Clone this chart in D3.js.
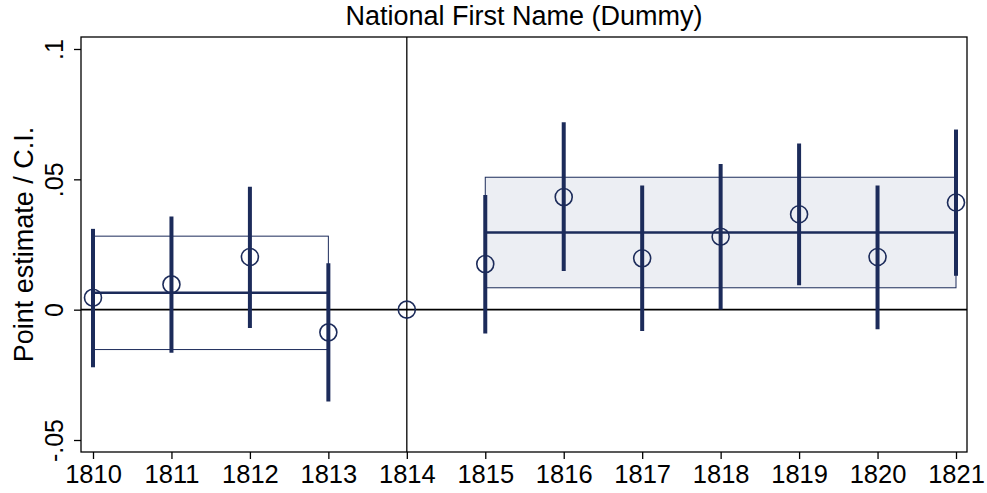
<!DOCTYPE html>
<html>
<head>
<meta charset="utf-8">
<script src="https://cdn.jsdelivr.net/npm/d3@7"></script>
<style>
  body { margin: 0; background: #fff; }
  text { font-family: "Liberation Sans", Arial, sans-serif; fill: #000; }
</style>
</head>
<body>
<div id="chart"></div>
<script>
// years and estimates
const years = [1810, 1811, 1812, 1813, 1814, 1815, 1816, 1817, 1818, 1819, 1820, 1821];
const estimate = [0.0046, 0.0097, 0.0202, -0.0087, 0, 0.0175, 0.0432, 0.0197, 0.0280, 0.0366, 0.0202, 0.0411];
const ciLow = [-0.0221, -0.0165, -0.0070, -0.0352, null, -0.0091, 0.0148, -0.0082, 0.0001, 0.0094, -0.0075, 0.0130];
const ciHigh = [0.0310, 0.0357, 0.0472, 0.0178, null, 0.0440, 0.0719, 0.0476, 0.0559, 0.0637, 0.0476, 0.0691];

// pre / post averages with their bands
const periods = [
  { from: 1810, to: 1813, mean: 0.0065, low: -0.0153, high: 0.0282, fill: "none" },
  { from: 1815, to: 1821, mean: 0.0296, low: 0.0084, high: 0.0508, fill: "#eceef3" }
];

const yTicks = [-0.05, 0, 0.05, 0.1];
const yTickLabels = ["-.05", "0", ".05", ".1"];

const navy = "#1c2b5a";

const margin = { top: 37, right: 20, bottom: 41, left: 81 },
  width = 987 - margin.left - margin.right,
  height = 493 - margin.top - margin.bottom;

const svg = d3.select("#chart")
  .append("svg")
  .attr("width", width + margin.left + margin.right)
  .attr("height", height + margin.top + margin.bottom);

const g = svg.append("g")
  .attr("transform", `translate(${margin.left},${margin.top})`);

const x = d3.scaleLinear()
  .domain([1810, 1821])
  .range([12, 875]);

const y = d3.scaleLinear()
  .domain([-0.0546, 0.1046])
  .range([height, 0]);

// title
svg.append("text")
  .attr("x", margin.left + width / 2)
  .attr("y", 25)
  .attr("text-anchor", "middle")
  .style("font-size", "27px")
  .text("National First Name (Dummy)");

// y label
svg.append("text")
  .attr("transform", `translate(33,${margin.top + height / 2}) rotate(-90)`)
  .attr("text-anchor", "middle")
  .style("font-size", "27px")
  .text("Point estimate / C.I.");

// bands
g.selectAll("rect.band")
  .data(periods)
  .join("rect")
  .attr("class", "band")
  .attr("x", d => x(d.from))
  .attr("width", d => x(d.to) - x(d.from))
  .attr("y", d => y(d.high))
  .attr("height", d => y(d.low) - y(d.high))
  .attr("fill", d => d.fill)
  .attr("stroke", navy)
  .attr("stroke-width", 1);

// reference lines
g.append("line")
  .attr("x1", 0).attr("x2", width)
  .attr("y1", y(0)).attr("y2", y(0))
  .attr("stroke", "#000").attr("stroke-width", 1.6);

g.append("line")
  .attr("x1", x(1814)).attr("x2", x(1814))
  .attr("y1", 0).attr("y2", height)
  .attr("stroke", "#000").attr("stroke-width", 1.3);

// mean lines
g.selectAll("line.mean")
  .data(periods)
  .join("line")
  .attr("class", "mean")
  .attr("x1", d => x(d.from)).attr("x2", d => x(d.to))
  .attr("y1", d => y(d.mean)).attr("y2", d => y(d.mean))
  .attr("stroke", navy).attr("stroke-width", 2.6);

const pts = years.map((yr, i) => ({ yr, est: estimate[i], lo: ciLow[i], hi: ciHigh[i] }));

// CI bars
g.selectAll("line.ci")
  .data(pts.filter(d => d.lo !== null))
  .join("line")
  .attr("class", "ci")
  .attr("x1", d => x(d.yr)).attr("x2", d => x(d.yr))
  .attr("y1", d => y(d.lo)).attr("y2", d => y(d.hi))
  .attr("stroke", navy).attr("stroke-width", 4);

// point estimates
g.selectAll("circle.pt")
  .data(pts)
  .join("circle")
  .attr("class", "pt")
  .attr("cx", d => x(d.yr))
  .attr("cy", d => y(d.est))
  .attr("r", 8.5)
  .attr("fill", "none")
  .attr("stroke", navy)
  .attr("stroke-width", 1.6);

// frame
g.append("rect")
  .attr("width", width).attr("height", height)
  .attr("fill", "none").attr("stroke", "#000").attr("stroke-width", 1.3);

// x axis
const xAxis = g.append("g")
  .attr("transform", `translate(0,${height})`)
  .call(d3.axisBottom(x).tickValues(years).tickFormat(d3.format("d")).tickSizeOuter(0).tickSize(7));
xAxis.select(".domain").remove();
xAxis.selectAll("line").attr("stroke", "#000").attr("stroke-width", 1.3);
xAxis.selectAll("text")
  .attr("y", 31).attr("dy", 0)
  .style("font-size", "25.5px")
  .style("font-family", "Liberation Sans, Arial, sans-serif");

// y axis
const yAxis = g.append("g")
  .call(d3.axisLeft(y).tickValues(yTicks).tickFormat((d, i) => yTickLabels[i]).tickSizeOuter(0).tickSize(7));
yAxis.select(".domain").remove();
yAxis.selectAll("line").attr("stroke", "#000").attr("stroke-width", 1.3);
yAxis.selectAll("text")
  .attr("x", 0).attr("dy", 0)
  .attr("transform", "translate(-18,0) rotate(-90)")
  .attr("text-anchor", "middle")
  .style("font-size", "25px")
  .style("font-family", "Liberation Sans, Arial, sans-serif");
</script>
</body>
</html>
